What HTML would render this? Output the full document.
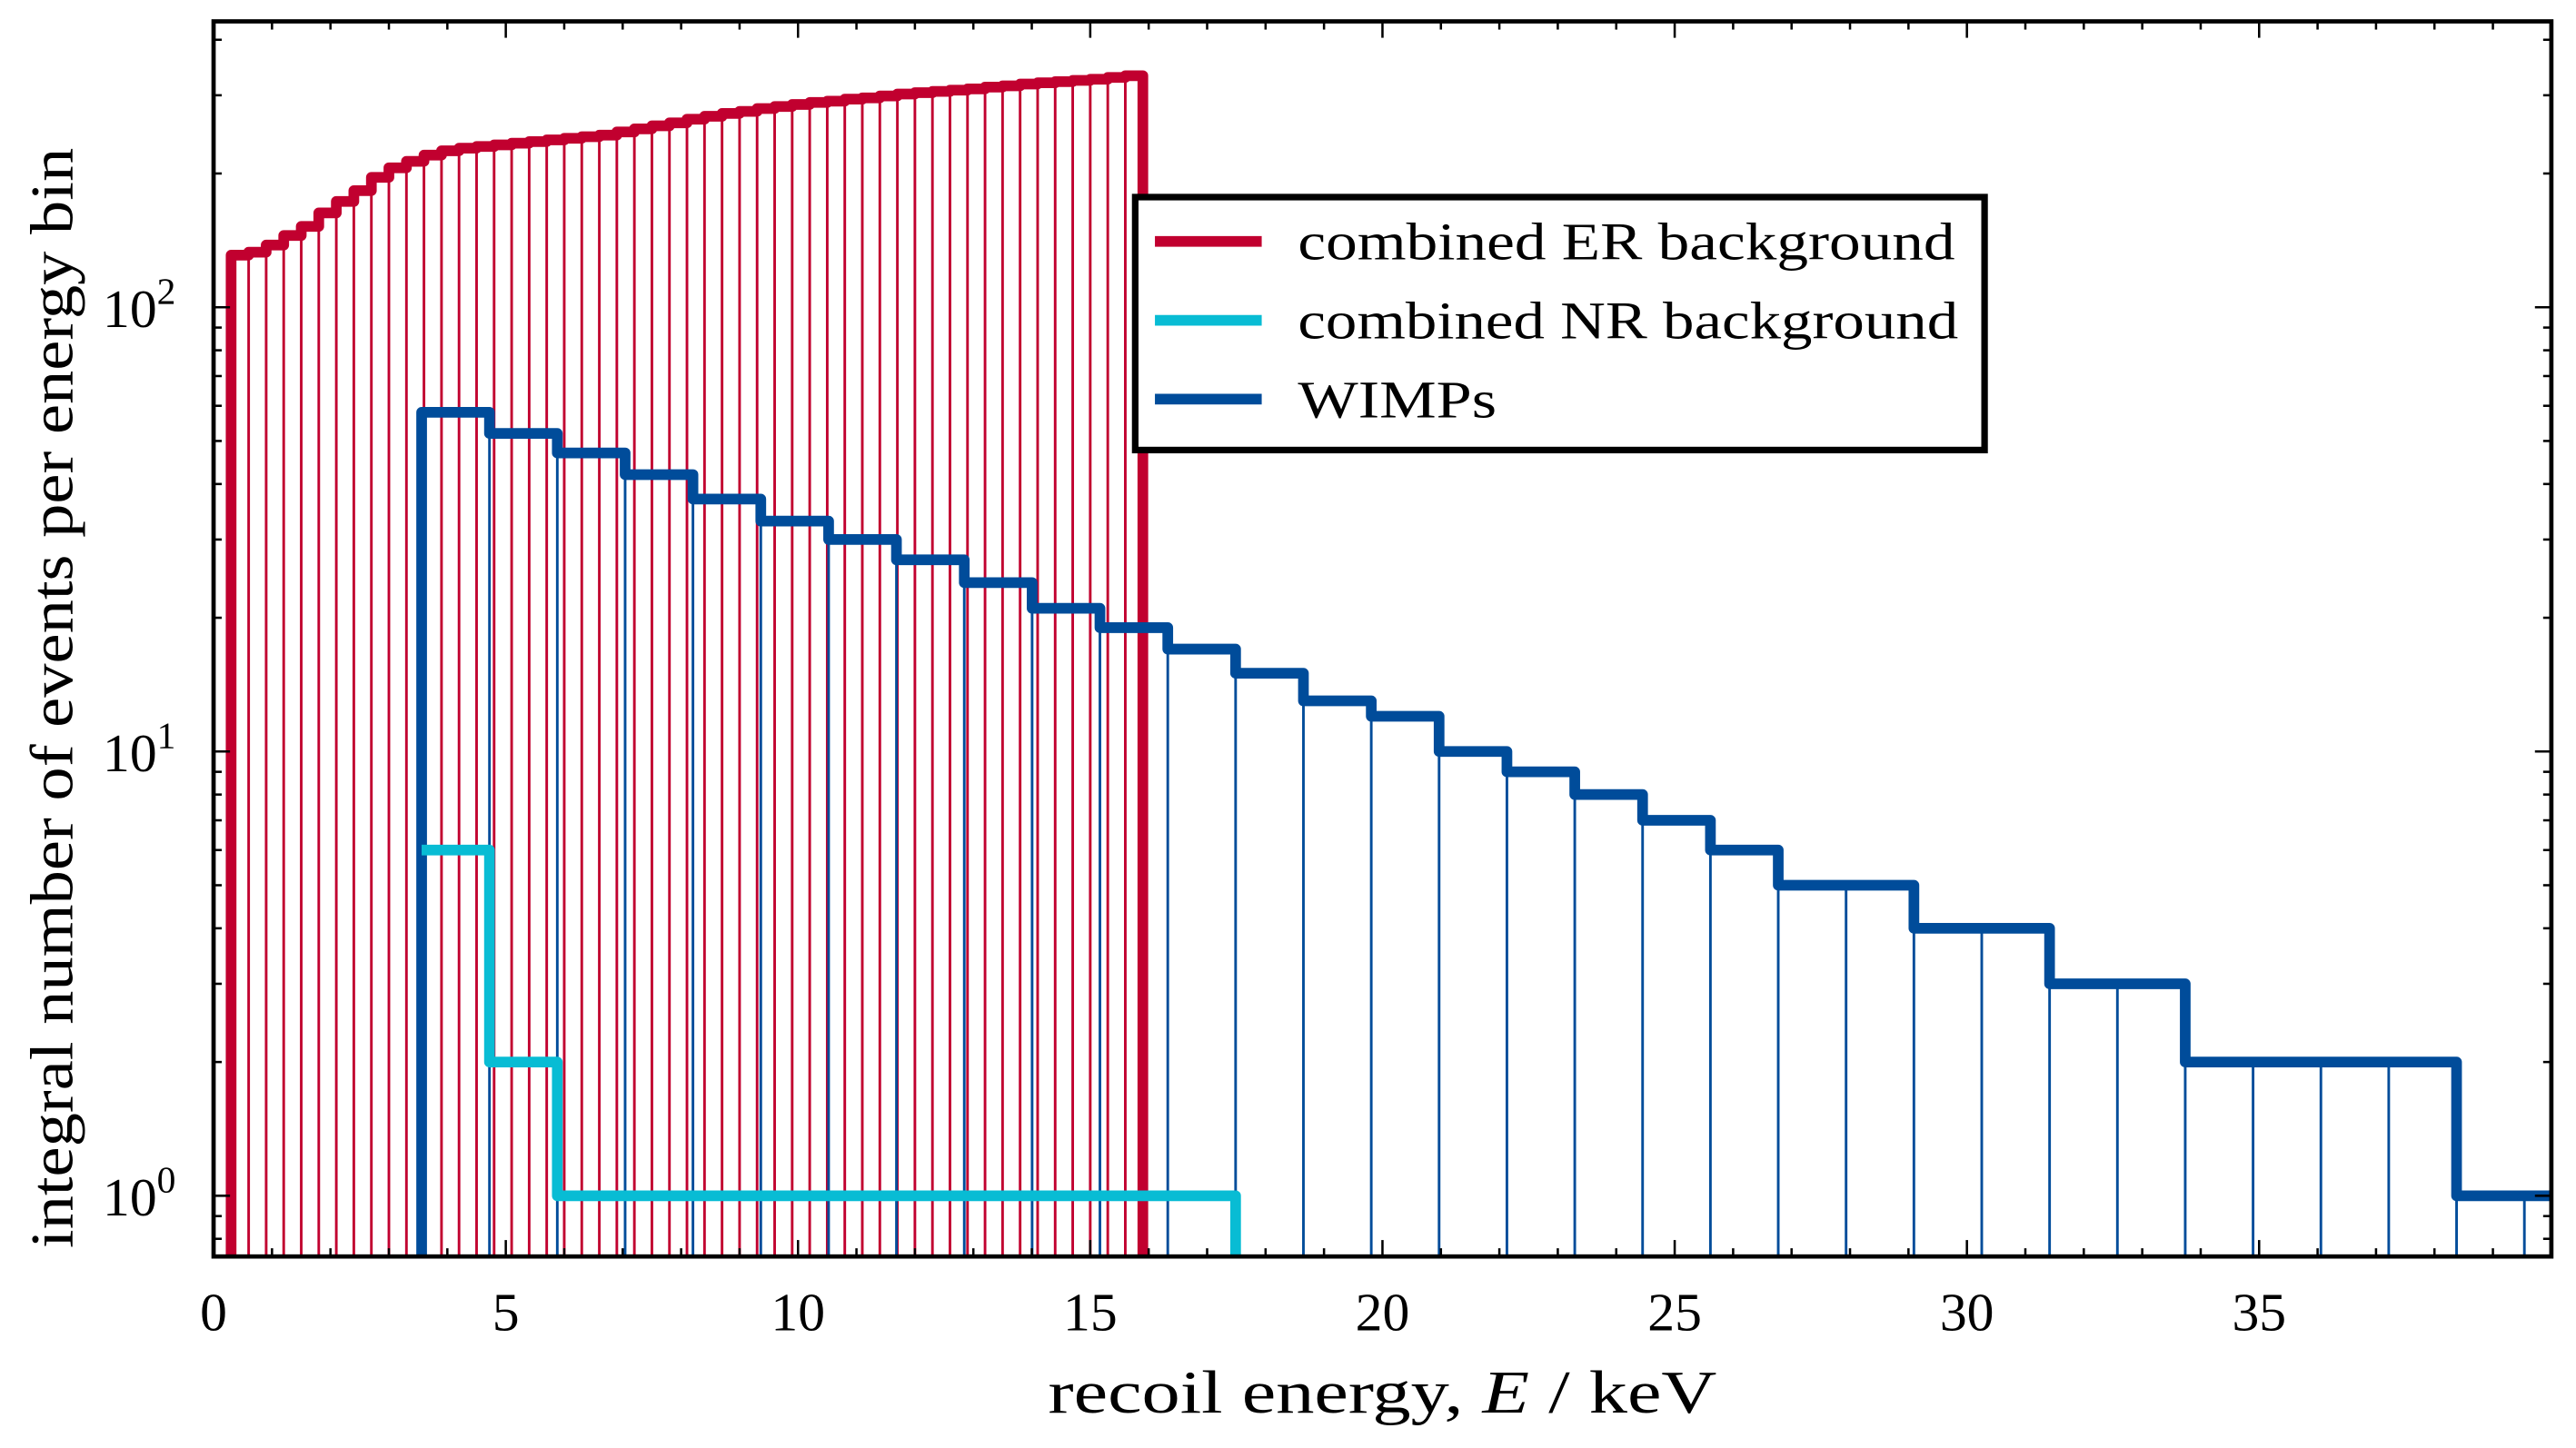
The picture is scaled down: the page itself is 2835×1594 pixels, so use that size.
<!DOCTYPE html>
<html><head><meta charset="utf-8"><style>
html,body{margin:0;padding:0;background:#fff;}
svg{display:block;}
text{font-family:"Liberation Serif",serif;fill:#000;}
</style></head><body>
<svg id="chart" width="2835" height="1594" viewBox="0 0 1568 881.6" xmlns="http://www.w3.org/2000/svg">
<rect x="0" y="0" width="1568" height="881.6" fill="#fff"/>
<g id="plot"></g>
<g id="axes"></g>
<g id="legend">
  <rect x="691" y="120" width="517" height="154" fill="#fff" stroke="#000" stroke-width="4"/>
  <line x1="703" y1="147" x2="768" y2="147" stroke="#C1002F" stroke-width="6.5"/>
  <text x="790" y="158" font-size="32" textLength="400" lengthAdjust="spacingAndGlyphs">combined ER background</text>
  <line x1="703" y1="195" x2="768" y2="195" stroke="#08BCD4" stroke-width="6.5"/>
  <text x="790" y="206" font-size="32" textLength="402" lengthAdjust="spacingAndGlyphs">combined NR background</text>
  <line x1="703" y1="243" x2="768" y2="243" stroke="#004C9A" stroke-width="6.5"/>
  <text x="790" y="254" font-size="32" textLength="121" lengthAdjust="spacingAndGlyphs">WIMPs</text>
</g>
<text x="638" y="860" font-size="37" textLength="407" lengthAdjust="spacingAndGlyphs">recoil energy, <tspan font-style="italic">E</tspan> / keV</text>
<text transform="translate(44,760) rotate(-90)" font-size="37" textLength="670" lengthAdjust="spacingAndGlyphs">integral number of events per energy bin</text>
</svg>
<script>
const erStart = 0.3;
const erWidth = 0.3;
const erValues = [131,133,138,145,152,163,173,183,196,206,213,220,225,228,230,232,234,236,238,240,242,244,248,252,256,260,265,269,273,276,280,283,286,289,291,294,296,299,302,304,306,308,310,313,315,318,320,322,324,326,329,332];
const wimpStart = 3.56;
const wimpWidth = 1.1606;
const wimpValues = [58,52,47,42,37,33,30,27,24,21,19,17,15,13,12,10,9,8,7,6,5,5,4,4,3,3,2,2,2,2,1,1];
const nrValues = [6,2,1,1,1,1,1,1,1,1,1,1];
const xTicks = [0,5,10,15,20,25,30,35];
const yDecades = [0,1,2];
const xMin=0,xMax=40,yMin=0.73,yMax=440;
const L=130,R=1553,T=13,B=765;
const NS="http://www.w3.org/2000/svg";
function X(v){return L+(v-xMin)/(xMax-xMin)*(R-L);}
function Y(v){return B-(Math.log10(v)-Math.log10(yMin))/(Math.log10(yMax)-Math.log10(yMin))*(B-T);}
const plot=document.getElementById('plot'), axes=document.getElementById('axes');
function mk(tag,attrs,parent){const e=document.createElementNS(NS,tag);for(const k in attrs)e.setAttribute(k,attrs[k]);parent.appendChild(e);return e;}
const clip=mk('clipPath',{id:'pc'},plot);mk('rect',{x:L,y:T,width:R-L,height:B-T},clip);
const g=mk('g',{'clip-path':'url(#pc)'},plot);

function hist(start,width,vals,color,name,thin,closeEnd){
  const grp=mk('g',{},g);
  
  
  if(thin){
    for(let i=0;i<vals.length;i++){
      const x0=X(start+i*width);
      const ln=mk('line',{x1:x0,y1:B,x2:x0,y2:Y(vals[i]),stroke:color,'stroke-width':1.6},grp);
      
      
    }
  }
  let d='M'+X(start)+','+(thin?B+5:Y(vals[0]));
  for(let i=0;i<vals.length;i++){
    d+=' L'+X(start+i*width)+','+Y(vals[i])+' L'+X(start+(i+1)*width)+','+Y(vals[i]);
  }
  if(closeEnd) d+=' L'+X(start+vals.length*width)+','+(B+5);
  const p=mk('path',{d:d,fill:'none',stroke:color,'stroke-width':6.5,'stroke-linejoin':'round'},grp);
  
  
}
hist(erStart,erWidth,erValues,'#C1002F','er-histogram',true,true);
hist(wimpStart,wimpWidth,wimpValues,'#004C9A','wimp-histogram',true,false);
hist(wimpStart,wimpWidth,nrValues,'#08BCD4','nr-histogram',false,true);

const fr=mk('rect',{x:L,y:T,width:R-L,height:B-T,fill:'none',stroke:'#000','stroke-width':2.6},axes);


for(let v=1;v<40;v++){
  const major=v%5===0, len=major?10:5, x=X(v);
  mk('line',{x1:x,y1:B,x2:x,y2:B-len,stroke:'#000','stroke-width':1.4},axes);
  mk('line',{x1:x,y1:T,x2:x,y2:T+len,stroke:'#000','stroke-width':1.4},axes);
}
xTicks.forEach(v=>{
  const t=mk('text',{x:X(v),y:810,'font-size':33,'text-anchor':'middle'},axes);
  t.textContent=String(v);
  
  
});
for(let e=-1;e<=2;e++){
  for(let m=1;m<10;m++){
    const v=m*Math.pow(10,e);
    if(v<yMin||v>yMax)continue;
    const len=m===1?10:5, y=Y(v);
    mk('line',{x1:L,y1:y,x2:L+len,y2:y,stroke:'#000','stroke-width':1.4},axes);
    mk('line',{x1:R,y1:y,x2:R-len,y2:y,stroke:'#000','stroke-width':1.4},axes);
  }
}
yDecades.forEach(e=>{
  const t=mk('text',{x:107,y:Y(Math.pow(10,e))+12,'font-size':33,'text-anchor':'end'},axes);
  t.textContent='10';
  const s=mk('tspan',{dy:-14,'font-size':23},t);
  s.textContent=String(e);
  
  
});
</script>
</body></html>
